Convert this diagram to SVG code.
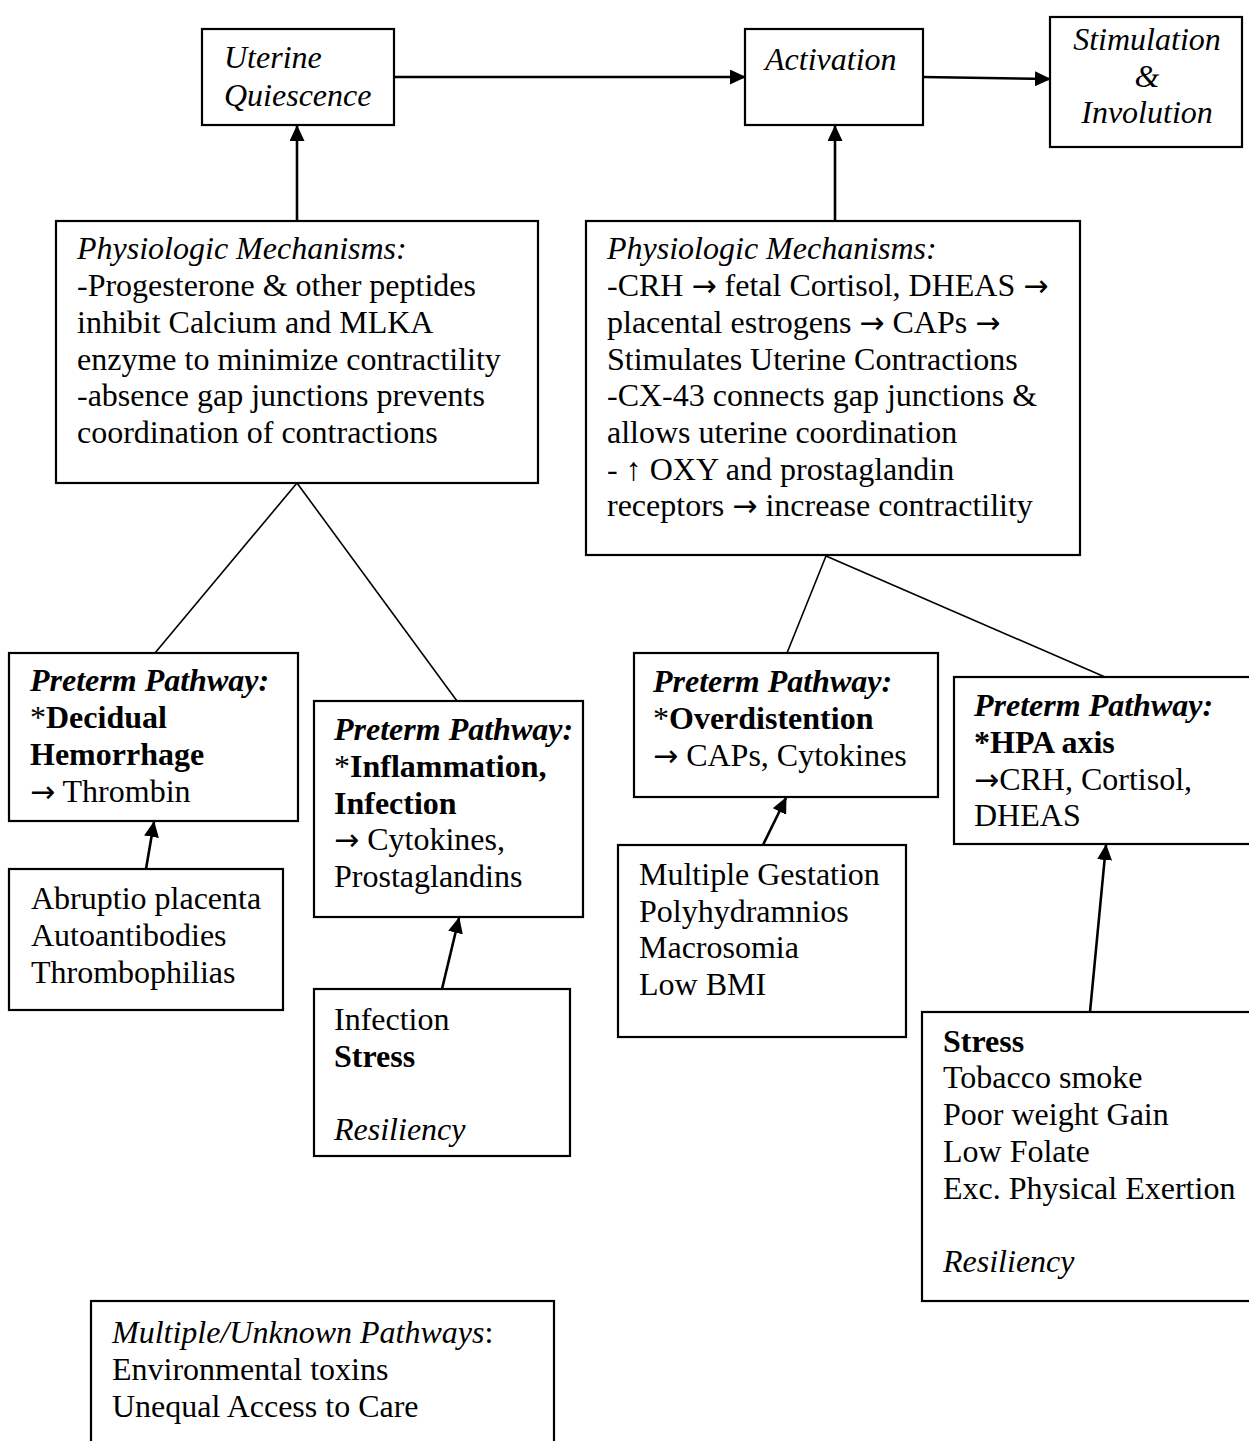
<svg xmlns="http://www.w3.org/2000/svg" width="1249" height="1441" viewBox="0 0 1249 1441">
  <style>
    .box { fill: #fff; stroke: #000; stroke-width: 2.2; }
    .t { font-family: "Liberation Serif", "Times New Roman", serif; font-size: 32px; fill: #000; }
    .i { font-style: italic; }
    .b { font-weight: bold; }
    .ar { font-family: "DejaVu Sans", sans-serif; font-size: 30px; font-weight: normal; font-style: normal; }
    .arrow { stroke: #000; stroke-width: 2.6; fill: none; marker-end: url(#head); }
    .link { stroke: #000; stroke-width: 1.6; fill: none; }
  </style>
  <defs>
    <marker id="head" viewBox="0 0 16 15" refX="15" refY="7.5" markerWidth="16" markerHeight="15" markerUnits="userSpaceOnUse" orient="auto">
      <path d="M0,0 L16,7.5 L0,15 Z" fill="#000"/>
    </marker>
  </defs>

  <!-- connectors -->
  <g id="connectors">
    <line class="arrow" x1="394" y1="77" x2="745" y2="77"/>
    <line class="arrow" x1="923" y1="77" x2="1050" y2="79"/>
    <line class="arrow" x1="297" y1="221" x2="297" y2="126"/>
    <line class="arrow" x1="835" y1="221" x2="835" y2="126"/>
    <line class="link" x1="297" y1="483" x2="155" y2="653"/>
    <line class="link" x1="297" y1="483" x2="457" y2="701"/>
    <line class="link" x1="826" y1="556" x2="787" y2="653"/>
    <line class="link" x1="826" y1="556" x2="1105" y2="677"/>
    <line class="arrow" x1="146" y1="869" x2="154" y2="822"/>
    <line class="arrow" x1="442" y1="989" x2="459" y2="918"/>
    <line class="arrow" x1="763" y1="845" x2="786" y2="798"/>
    <line class="arrow" x1="1090" y1="1012" x2="1106" y2="845"/>
  </g>

  <!-- top row -->
  <g id="uterine-quiescence">
    <rect class="box" x="202" y="29" width="192" height="96"/>
    <text class="t i" x="224" y="68">Uterine</text>
    <text class="t i" x="224" y="106">Quiescence</text>
  </g>
  <g id="activation">
    <rect class="box" x="745" y="29" width="178" height="96"/>
    <text class="t i" x="765" y="70">Activation</text>
  </g>
  <g id="stimulation-involution">
    <rect class="box" x="1050" y="17" width="192" height="130"/>
    <text class="t i" x="1147" y="50" text-anchor="middle">Stimulation</text>
    <text class="t i" x="1147" y="87" text-anchor="middle">&amp;</text>
    <text class="t i" x="1147" y="123" text-anchor="middle">Involution</text>
  </g>

  <!-- physiologic mechanisms -->
  <g id="mechanisms-quiescence">
    <rect class="box" x="56" y="221" width="482" height="262"/>
    <text class="t i" x="77" y="259">Physiologic Mechanisms:</text>
    <text class="t" x="77" y="296">-Progesterone &amp; other peptides</text>
    <text class="t" x="77" y="333">inhibit Calcium and MLKA</text>
    <text class="t" x="77" y="370">enzyme to minimize contractility</text>
    <text class="t" x="77" y="406">-absence gap junctions prevents</text>
    <text class="t" x="77" y="443">coordination of contractions</text>
  </g>
  <g id="mechanisms-activation">
    <rect class="box" x="586" y="221" width="494" height="334"/>
    <text class="t i" x="607" y="259">Physiologic Mechanisms:</text>
    <text class="t" x="607" y="296">-CRH <tspan class="ar">→</tspan> fetal Cortisol, DHEAS <tspan class="ar">→</tspan></text>
    <text class="t" x="607" y="333">placental estrogens <tspan class="ar">→</tspan> CAPs <tspan class="ar">→</tspan></text>
    <text class="t" x="607" y="370">Stimulates Uterine Contractions</text>
    <text class="t" x="607" y="406">-CX-43 connects gap junctions &amp;</text>
    <text class="t" x="607" y="443">allows uterine coordination</text>
    <text class="t" x="607" y="480">- ↑ OXY and prostaglandin</text>
    <text class="t" x="607" y="516">receptors <tspan class="ar">→</tspan> increase contractility</text>
  </g>

  <!-- preterm pathways -->
  <g id="pathway-decidual">
    <rect class="box" x="9" y="653" width="289" height="168"/>
    <text class="t i b" x="30" y="691">Preterm Pathway:</text>
    <text class="t" x="30" y="728">*<tspan class="b">Decidual</tspan></text>
    <text class="t b" x="30" y="765">Hemorrhage</text>
    <text class="t" x="30" y="802"><tspan class="ar">→</tspan> Thrombin</text>
  </g>
  <g id="pathway-inflammation">
    <rect class="box" x="314" y="701" width="269" height="216"/>
    <text class="t i b" x="334" y="740">Preterm Pathway:</text>
    <text class="t" x="334" y="777">*<tspan class="b">Inflammation,</tspan></text>
    <text class="t b" x="334" y="814">Infection</text>
    <text class="t" x="334" y="850"><tspan class="ar">→</tspan> Cytokines,</text>
    <text class="t" x="334" y="887">Prostaglandins</text>
  </g>
  <g id="pathway-overdistention">
    <rect class="box" x="634" y="653" width="304" height="144"/>
    <text class="t i b" x="653" y="692">Preterm Pathway:</text>
    <text class="t" x="653" y="729">*<tspan class="b">Overdistention</tspan></text>
    <text class="t" x="653" y="766"><tspan class="ar">→</tspan> CAPs, Cytokines</text>
  </g>
  <g id="pathway-hpa">
    <rect class="box" x="954" y="677" width="300" height="167"/>
    <text class="t i b" x="974" y="716">Preterm Pathway:</text>
    <text class="t b" x="974" y="753">*HPA axis</text>
    <text class="t" x="974" y="790"><tspan class="ar">→</tspan>CRH, Cortisol,</text>
    <text class="t" x="974" y="826">DHEAS</text>
  </g>

  <!-- risk factors -->
  <g id="factors-decidual">
    <rect class="box" x="9" y="869" width="274" height="141"/>
    <text class="t" x="31" y="909">Abruptio placenta</text>
    <text class="t" x="31" y="946">Autoantibodies</text>
    <text class="t" x="31" y="983">Thrombophilias</text>
  </g>
  <g id="factors-inflammation">
    <rect class="box" x="314" y="989" width="256" height="167"/>
    <text class="t" x="334" y="1030">Infection</text>
    <text class="t b" x="334" y="1067">Stress</text>
    <text class="t i" x="334" y="1140">Resiliency</text>
  </g>
  <g id="factors-overdistention">
    <rect class="box" x="618" y="845" width="288" height="192"/>
    <text class="t" x="639" y="885">Multiple Gestation</text>
    <text class="t" x="639" y="922">Polyhydramnios</text>
    <text class="t" x="639" y="958">Macrosomia</text>
    <text class="t" x="639" y="995">Low BMI</text>
  </g>
  <g id="factors-hpa">
    <rect class="box" x="922" y="1012" width="332" height="289"/>
    <text class="t b" x="943" y="1052">Stress</text>
    <text class="t" x="943" y="1088">Tobacco smoke</text>
    <text class="t" x="943" y="1125">Poor weight Gain</text>
    <text class="t" x="943" y="1162">Low Folate</text>
    <text class="t" x="943" y="1199">Exc. Physical Exertion</text>
    <text class="t i" x="943" y="1272">Resiliency</text>
  </g>

  <g id="unknown-pathways">
    <rect class="box" x="91" y="1301" width="463" height="160"/>
    <text class="t" x="112" y="1343"><tspan class="i">Multiple/Unknown Pathways</tspan>:</text>
    <text class="t" x="112" y="1380">Environmental toxins</text>
    <text class="t" x="112" y="1417">Unequal Access to Care</text>
  </g>
</svg>
